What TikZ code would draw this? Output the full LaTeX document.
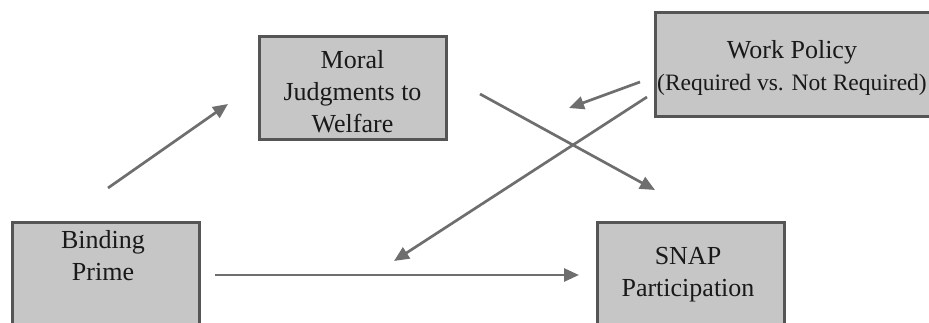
\documentclass[tikz,border=0pt]{standalone}
\usepackage{fontspec}
\setmainfont{Liberation Serif}
\usetikzlibrary{arrows.meta}
\definecolor{boxfill}{RGB}{198,198,198}
\definecolor{boxline}{RGB}{85,85,85}
\definecolor{arrowcol}{RGB}{110,110,110}
\tikzset{
  box/.style={draw=boxline, fill=boxfill, line width=3pt, rectangle, inner sep=0pt, outer sep=0pt},
  lbl/.style={inner sep=0pt, align=center, text=black!90, font=\fontsize{26}{32}\selectfont},
  conn/.style={draw=arrowcol, line width=2.7pt, -{Triangle[length=15pt,width=13pt]}, shorten >=0pt}
}
\begin{document}
\begin{tikzpicture}[x=1pt,y=1pt]
\useasboundingbox (0,0) rectangle (929,323);
\clip (0,0) rectangle (929,323);
% boxes
\node[box, minimum width=187pt, minimum height=103pt] (moral) at (352.5,234.5) {};
\node[box, minimum width=280pt, minimum height=104pt] (work) at (795,258) {};
\node[box, minimum width=187pt, minimum height=130pt] (bind) at (105.5,35) {};
\node[box, minimum width=187pt, minimum height=130pt] (snap) at (690.5,35) {};
% labels
\node[lbl] (moraltxt) at (352.5,231.5) {Moral\\Judgments to\\Welfare};
\node[lbl] (worktxt) at (792,255.5) {Work Policy\\{\fontsize{23.5}{32}\selectfont (Required vs. Not Required)}};
\node[lbl] (bindtxt) at (103,67.5) {Binding\\Prime};
\node[lbl] (snaptxt) at (688,48) {SNAP\\Participation};
% arrow end points
\coordinate (a1s) at (108,135);
\coordinate (a1e) at (228,219);
\coordinate (a2s) at (215,48);
\coordinate (a2e) at (579,48);
\coordinate (a3s) at (480,229);
\coordinate (a3e) at (655,133);
\coordinate (a4s) at (640,241);
\coordinate (a4e) at (569,215);
\coordinate (a5s) at (647,226);
\coordinate (a5e) at (394,62);
% connectors
\draw[conn] (a1s) -- (a1e);
\draw[conn] (a2s) -- (a2e);
\draw[conn] (a3s) -- (a3e);
\draw[conn] (a4s) -- (a4e);
\draw[conn] (a5s) -- (a5e);
\end{tikzpicture}
\end{document}
